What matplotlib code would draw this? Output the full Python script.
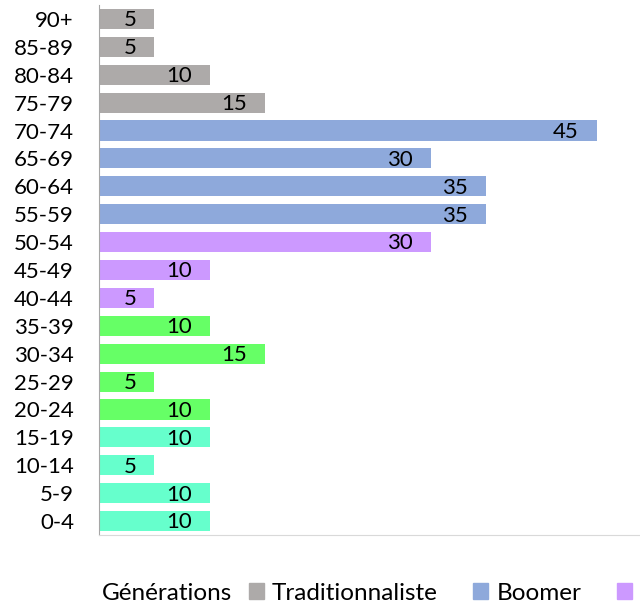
import matplotlib
matplotlib.use('Agg')
import matplotlib.pyplot as plt
from matplotlib.patches import Patch

plt.rcParams['font.family'] = ['Lato', 'DejaVu Sans']

# age groups bottom to top
ages = ['0-4', '5-9', '10-14', '15-19', '20-24', '25-29', '30-34', '35-39',
        '40-44', '45-49', '50-54', '55-59', '60-64', '65-69', '70-74',
        '75-79', '80-84', '85-89', '90+']
values = [10, 10, 5, 10, 10, 5, 15, 10, 5, 10, 30, 35, 35, 30, 45, 15, 10, 5, 5]
gens = ['Z', 'Z', 'Z', 'Z', 'Y', 'Y', 'Y', 'Y', 'X', 'X', 'X',
        'Boomer', 'Boomer', 'Boomer', 'Boomer',
        'Traditionnaliste', 'Traditionnaliste', 'Traditionnaliste', 'Traditionnaliste']
gen_names = ['Traditionnaliste', 'Boomer', 'X', 'Y', 'Z']
gen_colors = {'Traditionnaliste': '#ADAAA9', 'Boomer': '#8EA9DB', 'X': '#CC99FF',
              'Y': '#66FF66', 'Z': '#66FFCC'}

fs = 16
fs_leg = 17.5

fig = plt.figure(figsize=(6.4, 6.04), dpi=100)
# axes runs past the right edge of the figure, like the original
ax = fig.add_axes([99 / 640, 69 / 604, 553 / 640, 530 / 604])

y = range(len(ages))
bars = ax.barh(y, values, height=0.72, color=[gen_colors[g] for g in gens])
for b, v in zip(bars, values):
    ax.annotate(str(v), (b.get_width(), b.get_y() + b.get_height() / 2),
                xytext=(-13, -1), textcoords='offset points', ha='right', va='center',
                fontsize=fs, color='black')

ax.set_xlim(0, 50)
ax.set_ylim(-0.5, len(ages) - 0.5)
ax.set_yticks(list(y))
ax.set_yticklabels(ages, fontsize=fs)
ax.tick_params(axis='y', length=0, pad=18)
ax.set_xticks([])
for s in ['top', 'right']:
    ax.spines[s].set_visible(False)
ax.spines['left'].set_color('#A6A6A6')
ax.spines['bottom'].set_color('#D9D9D9')

fig.text(102 / 640, 11 / 604, 'Générations', fontsize=fs_leg, va='center', ha='left')
handles = [Patch(color=gen_colors[g]) for g in gen_names]
fig.legend(handles, gen_names, loc='center left', bbox_to_anchor=(249 / 640, 11 / 604),
           ncol=5, frameon=False, fontsize=fs_leg, handlelength=0.61, handleheight=0.61,
           handletextpad=0.33, columnspacing=1.47, borderaxespad=0, borderpad=0)

fig.savefig('out.png', dpi=100)
